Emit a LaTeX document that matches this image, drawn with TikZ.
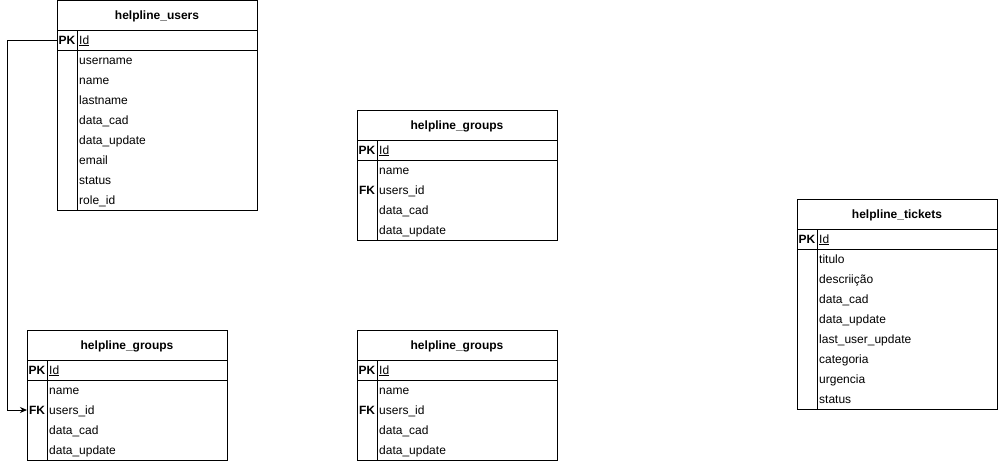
\documentclass[tikz,border=0pt]{standalone}
\usepackage{fontspec}
\setmainfont{Liberation Sans}
\usetikzlibrary{arrows.meta}
\tikzset{
  tbl/.style={draw=black, line width=1pt, fill=white, minimum width=200pt, inner sep=0pt, anchor=north west},
  sep/.style={draw=black, line width=1pt},
  ttl/.style={font=\fontsize{12}{14}\selectfont\bfseries, inner sep=0pt, text height=10pt, text depth=2pt},
  keytxt/.style={font=\fontsize{12}{14}\selectfont\bfseries, inner sep=0pt, text height=10pt, text depth=2pt},
  fld/.style={font=\fontsize{12}{14}\selectfont, inner sep=0pt, anchor=west, text height=10pt, text depth=2pt},
  rel/.style={draw=black, line width=1pt, -{Stealth[length=7pt,width=6pt]}}
}
% #1 name, #2 x, #3 y, #4 number of rows, #5 title, #6 list key/field
\newcommand\erdtable[6]{%
  \node[tbl, minimum height={50pt+20pt*#4}] (#1) at (#2,#3) {};
  \node[ttl] (#1-title) at (#2+100,#3+15) {#5};
  \draw[sep] (#2,#3+30) -- (#2+200,#3+30);
  \draw[sep] (#2,#3+50) -- (#2+200,#3+50);
  \draw[sep] (#2+20,#3+30) -- (#2+20,#3+50+20*#4);
  \node[keytxt] (#1-pkkey) at (#2+10,#3+40) {PK};
  \node[fld] (#1-pk) at (#2+22,#3+40) {\underline{Id}};
  \coordinate (#1-pkw) at (#2,#3+40);
  \foreach \k/\f [count=\i] in {#6}{
    \node[fld] (#1-r\i) at (#2+22,#3+40+20*\i) {\f};
    \node[keytxt] (#1-k\i) at (#2+10,#3+40+20*\i) {\k};
    \coordinate (#1-w\i) at (#2,#3+40+20*\i);
  }
}
\begin{document}
\begin{tikzpicture}[x=1pt,y=-1pt]
\useasboundingbox (0,0) rectangle (998,461);
\erdtable{users}{57}{0}{8}{helpline\_users}{{}/username,{}/name,{}/lastname,{}/data\_cad,{}/data\_update,{}/email,{}/status,{}/role\_id}
\erdtable{groupsA}{357}{110}{4}{helpline\_groups}{{}/name,FK/users\_id,{}/data\_cad,{}/data\_update}
\erdtable{groupsB}{27}{330}{4}{helpline\_groups}{{}/name,FK/users\_id,{}/data\_cad,{}/data\_update}
\erdtable{groupsC}{357}{330}{4}{helpline\_groups}{{}/name,FK/users\_id,{}/data\_cad,{}/data\_update}
\erdtable{tickets}{797}{199}{8}{helpline\_tickets}{{}/titulo,{}/descriição,{}/data\_cad,{}/data\_update,{}/last\_user\_update,{}/categoria,{}/urgencia,{}/status}
\draw[rel] (users-pkw) -- ++(-50,0) |- (groupsB-w2);
\end{tikzpicture}
\end{document}
